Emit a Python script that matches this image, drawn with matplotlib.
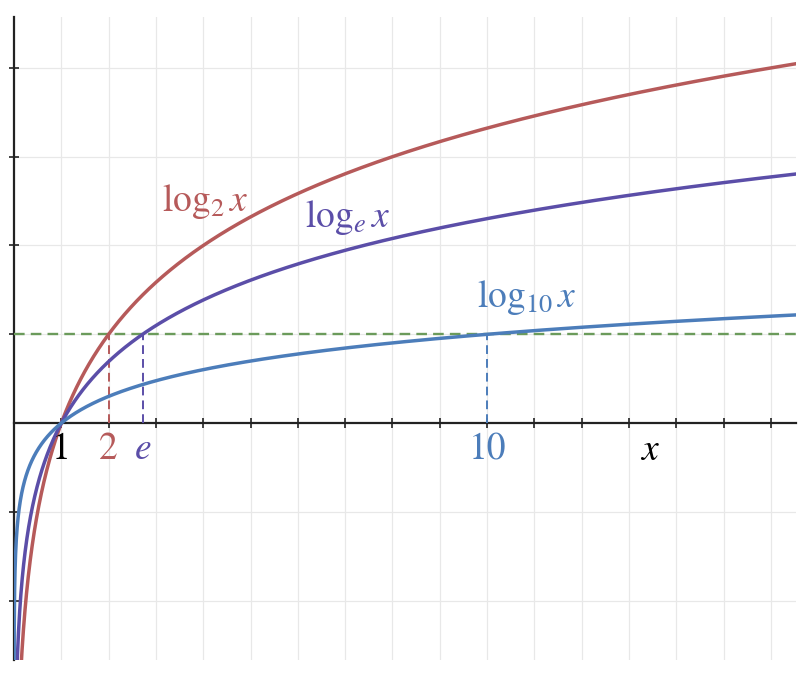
import numpy as np
import matplotlib.pyplot as plt

plt.rcParams['mathtext.fontset'] = 'stix'
plt.rcParams['font.family'] = 'STIXGeneral'

# curves: base, colour, label text and label position
bases = [2, np.e, 10]
colors = ['#b65a5a', '#5b4ea8', '#4c7dba']
labels = [r'$\log_2 x$', r'$\log_e x$', r'$\log_{10} x$']
label_xy = [(4.05, 2.5), (7.05, 2.31), (10.85, 1.42)]

# x-axis marks where each curve crosses y = 1
mark_text = ['2', r'$e$', '10']
green = '#6b9b5b'

fig = plt.figure(figsize=(8, 6.73), dpi=100)
ax = fig.add_axes([0.0175, 0.019, 0.977, 0.956])

xmin, xmax = 0, 16.52
ymin, ymax = -2.67, 4.575

x = np.linspace(0.0005, xmax, 4000)
for b, c in zip(bases, colors):
    ax.plot(x, np.log(x) / np.log(b), color=c, lw=2.5, zorder=4)

# dashed helpers
ax.axhline(1, color=green, lw=1.7, ls=(0, (4.5, 2.6)), zorder=3)
for b, c in zip(bases, colors):
    ax.plot([b, b], [0, 1], color=c, lw=1.4, ls=(0, (4.5, 2.6)), zorder=3)

fs = 27
for (lx, ly), t, c in zip(label_xy, labels, colors):
    ax.text(lx, ly, t, color=c, fontsize=fs, ha='center', va='center')

ax.text(1, -0.3, '1', color='black', fontsize=fs, ha='center', va='center', zorder=5)
for b, t, c in zip(bases, mark_text, colors):
    ax.text(b, -0.3, t, color=c, fontsize=fs, ha='center', va='center')
ax.text(13.45, -0.31, r'$x$', color='black', fontsize=fs, ha='center', va='center')

ax.set_xlim(xmin, xmax)
ax.set_ylim(ymin, ymax)

ax.spines['left'].set_position(('data', 0))
ax.spines['bottom'].set_position(('data', 0))
ax.spines['top'].set_visible(False)
ax.spines['right'].set_visible(False)
for s in ['left', 'bottom']:
    ax.spines[s].set_linewidth(1.6)
    ax.spines[s].set_color('#222222')

ax.set_xticks(np.arange(1, 17))
ax.set_yticks([-2, -1, 1, 2, 3, 4])
ax.tick_params(direction='inout', length=7, width=1.2, color='#222222',
               labelbottom=False, labelleft=False)
ax.grid(True, color='#e8e8e8', lw=0.9, zorder=0)
ax.set_axisbelow(True)

fig.savefig('out.png', dpi=100)
